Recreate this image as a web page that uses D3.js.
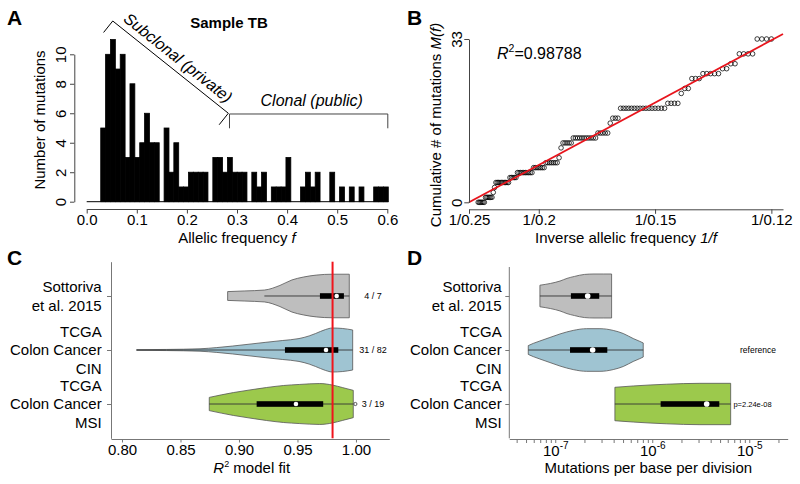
<!DOCTYPE html>
<html><head><meta charset="utf-8">
<script src="https://cdn.jsdelivr.net/npm/d3@7"></script>
<style>
body{margin:0;background:#fff}
svg{display:block}
text{font-family:"Liberation Sans",Arial,Helvetica,sans-serif;fill:#000}
</style>
</head><body>
<svg id="chart" width="800" height="484"></svg>
<script>
// ================= DATA =================
// Panel A: histogram of allelic frequencies (59 equal bins over histRange)
const histRange = [0.028, 0.602];
const histCounts = [5,10,11,9,10,3,8,3,4,6, 4,4,0,5,2,4,1,1,2,2, 2,2,0,3,3,2,3,2,2,2,
                    0,2,1,2,0,1,1,1,3,0, 0,1,2,1,2,0,0,2,0,1, 0,1,0,1,0,0,1,1,1];
const histXTicks = [0, 0.1, 0.2, 0.3, 0.4, 0.5, 0.6];
const histYTicks = [0, 2, 4, 6, 8, 10];

// Panel B: cumulative mutations M(f) on a grid of f
const cumF = [0.242,0.241,0.240,0.239,0.238,0.237,0.236,0.235,0.234,0.233,
  0.232,0.231,0.230,0.229,0.228,0.227,0.226,0.225,0.224,0.223,
  0.222,0.221,0.220,0.219,0.218,0.217,0.216,0.215,0.214,0.213,
  0.212,0.211,0.210,0.209,0.208,0.207,0.206,0.205,0.204,0.203,
  0.202,0.201,0.200,0.199,0.198,0.197,0.196,0.195,0.194,0.193,
  0.192,0.191,0.190,0.189,0.188,0.187,0.186,0.185,0.184,0.183,
  0.182,0.181,0.180,0.179,0.178,0.177,0.176,0.175,0.174,0.173,
  0.172,0.171,0.170,0.169,0.168,0.167,0.166,0.165,0.164,0.163,
  0.162,0.161,0.160,0.159,0.158,0.157,0.156,0.155,0.154,0.153,
  0.152,0.151,0.150,0.149,0.148,0.147,0.146,0.145,0.144,0.143,
  0.142,0.141,0.140,0.139,0.138,0.137,0.136,0.135,0.134,0.133,
  0.132,0.131,0.130,0.129,0.128,0.127,0.126,0.125,0.124,0.123,
  0.122,0.121,0.120];
const cumM = [0,0,0,0,0,0, 1,1,1,1,1,1, 2,3, 4,4,4,4,4,4,4,4,4,4, 5,5,5,5,5,
  6,6,6,6,6,6,6,6,6,6, 7,7,7,7,7,7,7, 8,8,8,8,8,8,8, 9,11, 12,12,12,12,12,
  13,13,13,13,13,13,13,13,13,13,13, 14,14,14,14,14, 16, 17,17,17,
  19,19,19,19,19,19,19,19,19,19,19,19,19,19,19,19, 20,20,20,20, 22, 23,23,
  25,25,25, 26,26,26,26,26, 27,27, 28,28, 30,30,30,30, 33,33,33,33];
const fitInvF = [4, 8.5];        // fitted line end points (1/f)
const fitM = [0, 34.0];          // fitted line M values
const r2Text = "=0.98788";
const invTickF = [0.25, 0.2, 0.15, 0.12];
const invTickLabels = ["1/0.25", "1/0.2", "1/0.15", "1/0.12"];
const cumYTicks = [0, 33];

// Panels C & D: groups
const groups = ["Sottoriva\net al. 2015", "TCGA\nColon Cancer\nCIN", "TCGA\nColon Cancer\nMSI"];
const groupColors = ["#bebebe", "#9fc4d2", "#9cc94c"];

// Panel C: R^2 violins (value grid + relative density)
const r2DensValues = [
  [0.8903, 0.905, 0.9217, 0.935, 0.9453, 0.955, 0.966, 0.98, 0.9943],
  [0.8125, 0.838, 0.8667, 0.881, 0.8946, 0.923, 0.937, 0.9513, 0.96, 0.9655, 0.974, 0.9798, 0.9883, 0.9972],
  [0.8746, 0.8952, 0.9094, 0.9236, 0.938, 0.952, 0.969, 0.98, 0.9883, 0.9977]
];
const r2DensWidths = [
  [0.20, 0.23, 0.27, 0.48, 0.73, 0.86, 0.95, 0.99, 0.99],
  [0.015, 0.025, 0.055, 0.11, 0.18, 0.35, 0.43, 0.52, 0.64, 0.75, 0.93, 1.0, 0.98, 0.91],
  [0.30, 0.52, 0.64, 0.75, 0.84, 0.89, 0.93, 0.86, 0.75, 0.62]
];
const r2Whisk = [[0.9217, 0.9943], [0.8125, 0.9972], [0.8746, 0.9977]];
const r2IQR = [[0.9692, 0.9897], [0.9393, 0.9849], [0.9151, 0.972]];
const r2Median = [0.9835, 0.9744, 0.9487];
const r2Outliers = [[], [], [0.9995]];
const r2Notes = ["4 / 7", "31 / 82", "3 / 19"];
const r2Threshold = 0.98;
const r2Ticks = [0.80, 0.85, 0.90, 0.95, 1.00];

// Panel D: mutation rate violins
const muDensValues = [
  [6.95e-8, 8.91e-8, 1.12e-7, 1.32e-7, 1.58e-7, 2.0e-7, 2.51e-7, 3.16e-7, 3.81e-7],
  [5.27e-8, 5.93e-8, 6.95e-8, 8.81e-8, 1.12e-7, 1.53e-7, 2.11e-7, 2.89e-7, 3.96e-7, 5.02e-7, 6.37e-7, 7.46e-7, 8.07e-7],
  [4.12e-7, 6.37e-7, 1.41e-6, 3.10e-6, 6.43e-6]
];
const muDensWidths = [
  [0.49, 0.57, 0.68, 0.80, 0.89, 0.98, 1.0, 1.0, 1.0],
  [0.20, 0.30, 0.41, 0.57, 0.73, 0.89, 0.97, 0.97, 0.89, 0.75, 0.52, 0.39, 0.32],
  [0.76, 0.82, 0.90, 0.94, 0.94]
];
const muWhisk = [[6.95e-8, 3.81e-7], [5.27e-8, 8.07e-7], [4.12e-7, 6.43e-6]];
const muIQR = [[1.45e-7, 2.84e-7], [1.42e-7, 3.44e-7], [1.22e-6, 4.91e-6]];
const muMedian = [2.16e-7, 2.43e-7, 3.64e-6];
const muNotes = ["", "reference", "p=2.24e-08"];
const muDomain = [3.36e-8, 2.49e-5];

// ================= DRAW =================
const svg = d3.select("#chart");
const FS = 15;

function panelLabel(t, x, y) {
  svg.append("text").attr("x", x).attr("y", y).attr("font-size", 21)
    .attr("font-weight", "bold").text(t);
}
function styleAxis(g, col) {
  g.selectAll("path.domain").attr("stroke", col).attr("stroke-width", 1);
  g.selectAll(".tick line").attr("stroke", col).attr("stroke-width", 1);
  g.selectAll(".tick text").attr("font-size", FS).attr("fill", "#000")
    .attr("font-family", '"Liberation Sans",Arial,sans-serif');
}

// ---------- Panel A ----------
panelLabel("A", 7, 25);
const xA = d3.scaleLinear().domain([0, 0.6]).range([86.7, 387.3]);
const yA = d3.scaleLinear().domain([0, 10]).range([201.7, 54.3]);
const binW = (histRange[1] - histRange[0]) / histCounts.length;
const gA = svg.append("g");
gA.selectAll("rect.bar").data(histCounts.map((c, i) => ({c, x0: histRange[0] + i * binW})).filter(d => d.c > 0))
  .join("rect").attr("class", "bar")
  .attr("x", d => xA(d.x0)).attr("width", d => xA(d.x0 + binW) - xA(d.x0))
  .attr("y", d => yA(d.c)).attr("height", d => yA(0) - yA(d.c))
  .attr("fill", "#000").attr("stroke", "#000").attr("stroke-width", 0.8);
gA.append("line").attr("x1", xA(0)).attr("x2", xA(histRange[1]))
  .attr("y1", yA(0)).attr("y2", yA(0)).attr("stroke", "#000").attr("stroke-width", 1);

const axA = svg.append("g").attr("transform", "translate(0,209)")
  .call(d3.axisBottom(xA).tickValues(histXTicks).tickFormat(d3.format(".1f")).tickSize(4.5).tickSizeOuter(0).tickPadding(1));
styleAxis(axA, "#444");
const ayA = svg.append("g").attr("transform", "translate(74.3,0)")
  .call(d3.axisLeft(yA).tickValues(histYTicks).tickSize(4.3).tickSizeOuter(0));
styleAxis(ayA, "#444");
ayA.selectAll(".tick text").attr("transform", "rotate(-90)").attr("x", 0).attr("y", -8.5)
  .attr("dy", 0).attr("text-anchor", "middle");

svg.append("text").attr("transform", "translate(45,120) rotate(-90)").attr("text-anchor", "middle")
  .attr("font-size", FS).text("Number of mutations");
const tA = svg.append("text").attr("x", 237).attr("y", 242.5).attr("text-anchor", "middle").attr("font-size", FS);
tA.append("tspan").text("Allelic frequency ");
tA.append("tspan").attr("font-style", "italic").text("f");
svg.append("text").attr("x", 229).attr("y", 27.5).attr("text-anchor", "middle")
  .attr("font-size", 15).attr("font-weight", "bold").text("Sample TB");

// subclonal bracket
const sb0 = [xA(0.052), yA(12.26)], sb1 = [xA(0.2827), yA(6.0)];
const ang = Math.atan2(sb1[1] - sb0[1], sb1[0] - sb0[0]);
const ux = Math.cos(ang), uy = Math.sin(ang);
const px = -uy, py = ux; // perpendicular (down-left)
const tickL = 14.7;
svg.append("path").attr("fill", "none").attr("stroke", "#000").attr("stroke-width", 1)
  .attr("d", `M${sb0[0] + px * tickL},${sb0[1] + py * tickL}L${sb0[0]},${sb0[1]}L${sb1[0]},${sb1[1]}L${sb1[0] + px * tickL},${sb1[1] + py * tickL}`);
const midX = (sb0[0] + sb1[0]) / 2 - px * 6.5, midY = (sb0[1] + sb1[1]) / 2 - py * 6.5;
svg.append("text").attr("transform", `translate(${midX},${midY}) rotate(${ang * 180 / Math.PI})`)
  .attr("text-anchor", "middle").attr("font-size", 16).attr("font-style", "italic").text("Subclonal (private)");
// clonal bracket
const cbY = yA(5.95), cbY2 = yA(4.98);
svg.append("path").attr("fill", "none").attr("stroke", "#444").attr("stroke-width", 1)
  .attr("d", `M${xA(0.285)},${cbY2}V${cbY}H${xA(0.601)}V${cbY2}`);
svg.append("text").attr("x", 311.7).attr("y", 106).attr("text-anchor", "middle")
  .attr("font-size", 16).attr("font-style", "italic").text("Clonal (public)");

// ---------- Panel B ----------
panelLabel("B", 407, 25);
const xB = d3.scaleLinear().domain([4, 8.5]).range([469, 783]);
const yB = d3.scaleLinear().domain([0, 33]).range([202.3, 39]);
svg.append("g").selectAll("circle").data(d3.zip(cumF, cumM)).join("circle")
  .attr("cx", d => xB(1 / d[0])).attr("cy", d => yB(d[1])).attr("r", 2.3)
  .attr("fill", "none").attr("stroke", "#000").attr("stroke-width", 0.75);
svg.append("line").attr("x1", xB(fitInvF[0])).attr("y1", yB(fitM[0]))
  .attr("x2", xB(fitInvF[1])).attr("y2", yB(fitM[1])).attr("stroke", "#e8141c").attr("stroke-width", 1.8);
const axB = svg.append("g").attr("transform", "translate(0,209.3)")
  .call(d3.axisBottom(xB).tickValues(invTickF.map(f => 1 / f)).tickFormat((d, i) => invTickLabels[i])
    .tickSize(4.5).tickSizeOuter(0).tickPadding(1));
styleAxis(axB, "#444");
const ayB = svg.append("g").attr("transform", "translate(469,0)")
  .call(d3.axisLeft(yB).tickValues(cumYTicks).tickSize(4.7).tickSizeOuter(0));
styleAxis(ayB, "#444");
ayB.selectAll(".tick text").attr("transform", "rotate(-90)").attr("x", 0).attr("y", -7.5)
  .attr("dy", 0).attr("text-anchor", "middle");
const tBy = svg.append("text").attr("transform", "translate(441,125) rotate(-90)").attr("text-anchor", "middle").attr("font-size", FS);
tBy.append("tspan").text("Cumulative # of mutations ");
tBy.append("tspan").attr("font-style", "italic").text("M(f)");
const tBx = svg.append("text").attr("x", 626).attr("y", 242.5).attr("text-anchor", "middle").attr("font-size", FS);
tBx.append("tspan").text("Inverse allelic frequency ");
tBx.append("tspan").attr("font-style", "italic").text("1/f");
const tR2 = svg.append("text").attr("x", 497).attr("y", 59).attr("font-size", 16);
tR2.append("tspan").attr("font-style", "italic").text("R");
tR2.append("tspan").attr("font-size", 10.5).attr("dy", -7).text("2");
tR2.append("tspan").attr("dy", 7).text(r2Text);

// ---------- Violin helper ----------
const wScale = d3.scaleLinear().domain([0, 1]).range([0, 22]);
function drawViolins(g, xs, ys, vals, dens, whisk, iqr, med, medR) {
  groups.forEach((grp, i) => {
    const cy = ys(grp);
    const area = d3.area().x(d => xs(d[0])).y0(d => cy - wScale(d[1])).y1(d => cy + wScale(d[1]))
      .curve(d3.curveMonotoneX);
    g.append("path").datum(d3.zip(vals[i], dens[i])).attr("d", area)
      .attr("fill", groupColors[i]).attr("stroke", "#555").attr("stroke-width", 0.8);
    g.append("line").attr("x1", xs(whisk[i][0])).attr("x2", xs(whisk[i][1]))
      .attr("y1", cy).attr("y2", cy).attr("stroke", "#333").attr("stroke-width", 0.9);
    g.append("rect").attr("x", xs(iqr[i][0])).attr("width", xs(iqr[i][1]) - xs(iqr[i][0]))
      .attr("y", cy - 2.8).attr("height", 5.6).attr("fill", "#000");
    g.append("circle").attr("cx", xs(med[i])).attr("cy", cy).attr("r", medR).attr("fill", "#fff");
  });
}
function groupLabels(xRight, ys) {
  groups.forEach(grp => {
    const lines = grp.split("\n");
    const cy = ys(grp);
    lines.forEach((ln, j) => {
      svg.append("text").attr("x", xRight).attr("y", cy + (j - (lines.length - 1) / 2) * 18.3 + 5.4)
        .attr("text-anchor", "end").attr("font-size", FS).text(ln);
    });
  });
}

// ---------- Panel C ----------
panelLabel("C", 7, 265);
const xC = d3.scaleLinear().domain([0.7906, 1.0285]).range([111, 389.3]);
const yC = d3.scalePoint().domain(groups).range([261.7, 438.3]).padding(0.635);
const gC = svg.append("g");
drawViolins(gC, xC, yC, r2DensValues, r2DensWidths, r2Whisk, r2IQR, r2Median, 2.3);
groups.forEach((grp, i) => {
  r2Outliers[i].forEach(v => {
    gC.append("circle").attr("cx", xC(v)).attr("cy", yC(grp)).attr("r", 1.6)
      .attr("fill", "#fff").attr("stroke", "#333").attr("stroke-width", 0.8);
  });
  svg.append("text").attr("x", 373).attr("y", yC(grp) + 3.2).attr("text-anchor", "middle")
    .attr("font-size", 9).attr("fill", "#222").text(r2Notes[i]);
});
gC.append("line").attr("x1", xC(r2Threshold)).attr("x2", xC(r2Threshold))
  .attr("y1", 261.7).attr("y2", 438.3).attr("stroke", "#f0141c").attr("stroke-width", 2);
const axC = svg.append("g").attr("transform", "translate(0,439)")
  .call(d3.axisBottom(xC).tickValues(r2Ticks).tickFormat(d3.format(".2f")).tickSize(3.5).tickSizeOuter(0).tickPadding(1.5));
styleAxis(axC, "#777");
const ayC = svg.append("g").attr("transform", "translate(111,0)")
  .call(d3.axisLeft(yC).tickFormat("").tickSize(4).tickSizeOuter(0));
styleAxis(ayC, "#777");
groupLabels(101.7, yC);
const tC = svg.append("text").attr("x", 251.7).attr("y", 473).attr("text-anchor", "middle").attr("font-size", FS);
tC.append("tspan").attr("font-style", "italic").text("R");
tC.append("tspan").attr("font-size", 9).attr("dy", -6).text("2");
tC.append("tspan").attr("dy", 6).text(" model fit");

// ---------- Panel D ----------
panelLabel("D", 407, 265);
const xD = d3.scaleLog().domain(muDomain).range([509.3, 787.7]);
const yD = d3.scalePoint().domain(groups).range([261.7, 438.3]).padding(0.635);
const gD = svg.append("g");
drawViolins(gD, xD, yD, muDensValues, muDensWidths, muWhisk, muIQR, muMedian, 2.8);
groups.forEach((grp, i) => {
  if (!muNotes[i]) return;
  svg.append("text").attr("x", i === 1 ? 758 : 752.5).attr("y", yD(grp) + 3)
    .attr("text-anchor", "middle").attr("font-size", i === 1 ? 8.5 : 7.5).attr("fill", "#222").text(muNotes[i]);
});
const axD = svg.append("g").attr("transform", "translate(0,439)")
  .call(d3.axisBottom(xD).tickValues(xD.ticks()).tickFormat("").tickSize(4).tickSizeOuter(0));
styleAxis(axD, "#777");
axD.selectAll(".tick").each(function (d) {
  const e = Math.log10(d);
  if (Math.abs(e - Math.round(e)) > 1e-6) return;
  const t = d3.select(this).append("text").attr("y", 16.5).attr("text-anchor", "middle")
    .attr("font-size", FS).attr("fill", "#000");
  t.append("tspan").text("10");
  t.append("tspan").attr("font-size", 10).attr("dy", -6.5).text(String(Math.round(e)));
});
const ayD = svg.append("g").attr("transform", "translate(509.3,0)")
  .call(d3.axisLeft(yD).tickFormat("").tickSize(4).tickSizeOuter(0));
styleAxis(ayD, "#777");
ayD.select("path.domain").attr("d", "M0,267V438.3");
groupLabels(501.7, yD);
svg.append("text").attr("x", 648.3).attr("y", 473).attr("text-anchor", "middle").attr("font-size", FS)
  .text("Mutations per base per division");
</script>
</body></html>
